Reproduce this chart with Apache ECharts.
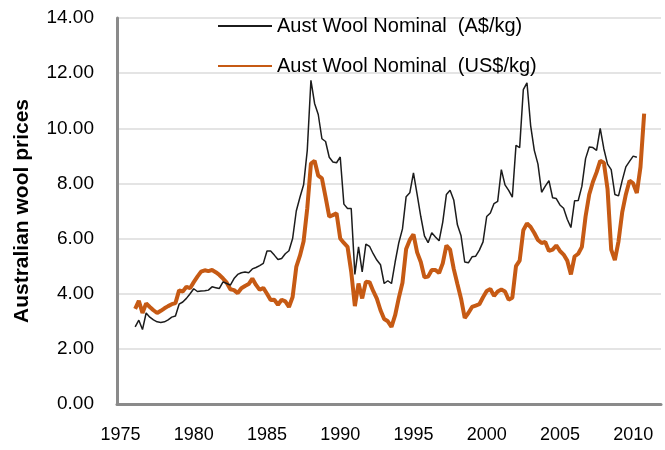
<!DOCTYPE html>
<html>
<head>
<meta charset="utf-8">
<script src="https://cdn.jsdelivr.net/npm/echarts@6/dist/echarts.min.js"></script>
<style>
  html, body { margin: 0; padding: 0; background: #fff; }
  #chart { width: 665px; height: 450px; }
</style>
</head>
<body>
<div id="chart"></div>
<script>
// quarterly series, first point is 1976 Q1
const startYear = 1976;
const yearLabels = [1975, 1980, 1985, 1990, 1995, 2000, 2005, 2010];

// Aust Wool Nominal (A$/kg)
const woolAud = [
  2.80, 3.04, 2.70, 3.30, 3.15, 3.05, 2.98, 2.96, 2.98, 3.05,
  3.15, 3.19, 3.62, 3.70, 3.83, 4.00, 4.18, 4.08, 4.10, 4.11,
  4.13, 4.25, 4.22, 4.19, 4.43, 4.37, 4.31, 4.55, 4.70, 4.76,
  4.79, 4.76, 4.90, 4.95, 5.02, 5.10, 5.55, 5.55, 5.40, 5.24,
  5.28, 5.45, 5.56, 6.00, 7.00, 7.50, 7.95, 9.20, 11.74, 10.90,
  10.50, 9.62, 9.52, 8.95, 8.78, 8.75, 8.96, 7.25, 7.09, 7.09,
  4.70, 5.70, 4.79, 5.80, 5.72, 5.45, 5.22, 5.05, 4.37, 4.47,
  4.37, 5.15, 5.85, 6.35, 7.52, 7.66, 8.38, 7.60, 6.80, 6.10,
  5.85, 6.21, 6.06, 5.92, 6.60, 7.60, 7.75, 7.40, 6.50, 6.10,
  5.15, 5.12, 5.34, 5.36, 5.58, 5.88, 6.80, 6.93, 7.27, 7.35,
  8.50, 7.95, 7.75, 7.50, 9.38, 9.30, 11.40, 11.65, 10.10, 9.20,
  8.70, 7.68, 7.90, 8.10, 7.48, 7.45, 7.22, 7.10, 6.70, 6.40,
  7.37, 7.38, 7.90, 8.90, 9.32, 9.30, 9.20, 10.00, 9.25, 8.70,
  8.50, 7.60, 7.55, 8.10, 8.60, 8.80, 8.99, 8.95
];

// Aust Wool Nominal (US$/kg)
const woolUsd = [
  3.45, 3.74, 3.30, 3.65, 3.52, 3.40, 3.30, 3.38, 3.47, 3.55,
  3.62, 3.66, 4.12, 4.08, 4.25, 4.20, 4.42, 4.62, 4.80, 4.85,
  4.82, 4.86, 4.78, 4.68, 4.55, 4.40, 4.16, 4.13, 4.02, 4.20,
  4.28, 4.35, 4.55, 4.32, 4.14, 4.21, 4.00, 3.77, 3.78, 3.60,
  3.78, 3.72, 3.52, 3.88, 4.97, 5.38, 5.90, 7.10, 8.72, 8.82,
  8.28, 8.18, 7.50, 6.80, 6.85, 6.92, 6.00, 5.84, 5.70, 4.80,
  3.55, 4.37, 3.83, 4.43, 4.42, 4.10, 3.82, 3.40, 3.08, 3.00,
  2.80, 3.22, 3.85, 4.40, 5.62, 5.95, 6.15, 5.50, 5.15, 4.60,
  4.62, 4.86, 4.86, 4.75, 5.10, 5.75, 5.60, 4.90, 4.35, 3.82,
  3.12, 3.30, 3.52, 3.57, 3.62, 3.87, 4.10, 4.17, 3.92, 4.08,
  4.15, 4.08, 3.78, 3.85, 5.00, 5.20, 6.30, 6.55, 6.42, 6.20,
  5.95, 5.84, 5.88, 5.55, 5.60, 5.75, 5.55, 5.42, 5.20, 4.70,
  5.35, 5.45, 5.70, 6.80, 7.60, 8.05, 8.40, 8.82, 8.75, 7.80,
  5.60, 5.22, 5.90, 6.95, 7.60, 8.10, 8.00, 7.65, 8.60, 10.53
];

const toPoints = vals => vals.map((v, i) => [startYear + i / 4, v]);

const font = "'Liberation Sans', Arial, Helvetica, sans-serif";
const chart = echarts.init(document.getElementById('chart'));

chart.setOption({
  animation: false,
  textStyle: { fontFamily: font },
  grid: { left: 117, right: 4, top: 18, bottom: 46 },
  legend: {
    orient: 'vertical',
    left: 217,
    top: 16,
    padding: 0,
    itemWidth: 54,
    itemHeight: 14,
    itemGap: 20,
    itemStyle: { opacity: 0 },
    textStyle: { fontSize: 20, color: '#000', fontFamily: font },
    data: ['Aust Wool Nominal  (A$/kg)', 'Aust Wool Nominal  (US$/kg)']
  },
  xAxis: {
    type: 'value',
    min: 1974.76,
    max: 2011.9,
    axisLine: { lineStyle: { color: '#8a8a8a', width: 3 } },
    axisTick: { show: false },
    splitLine: { show: false },
    axisLabel: {
      customValues: yearLabels,
      fontSize: 18,
      color: '#000',
      margin: 22,
      formatter: v => String(v)
    }
  },
  yAxis: {
    type: 'value',
    min: 0,
    max: 14,
    interval: 2,
    name: 'Australian wool prices',
    nameLocation: 'middle',
    nameGap: 84,
    nameTextStyle: { fontSize: 21, fontWeight: 'bold', color: '#000', fontFamily: font },
    axisLine: { show: true, lineStyle: { color: '#8a8a8a', width: 3 } },
    axisTick: { show: false },
    splitLine: { lineStyle: { color: '#e4e4e4', width: 2 } },
    axisLabel: {
      fontSize: 19,
      color: '#000',
      margin: 23,
      formatter: v => v.toFixed(2)
    }
  },
  series: [
    {
      name: 'Aust Wool Nominal  (A$/kg)',
      type: 'line',
      data: toPoints(woolAud),
      symbol: 'none',
      lineStyle: { color: '#1c1c1c', width: 1.5 },
      itemStyle: { color: '#1c1c1c' },
      z: 3
    },
    {
      name: 'Aust Wool Nominal  (US$/kg)',
      type: 'line',
      data: toPoints(woolUsd),
      symbol: 'none',
      lineStyle: { color: '#c65a14', width: 4 },
      itemStyle: { color: '#c65a14' },
      z: 2
    }
  ]
});
</script>
</body>
</html>
